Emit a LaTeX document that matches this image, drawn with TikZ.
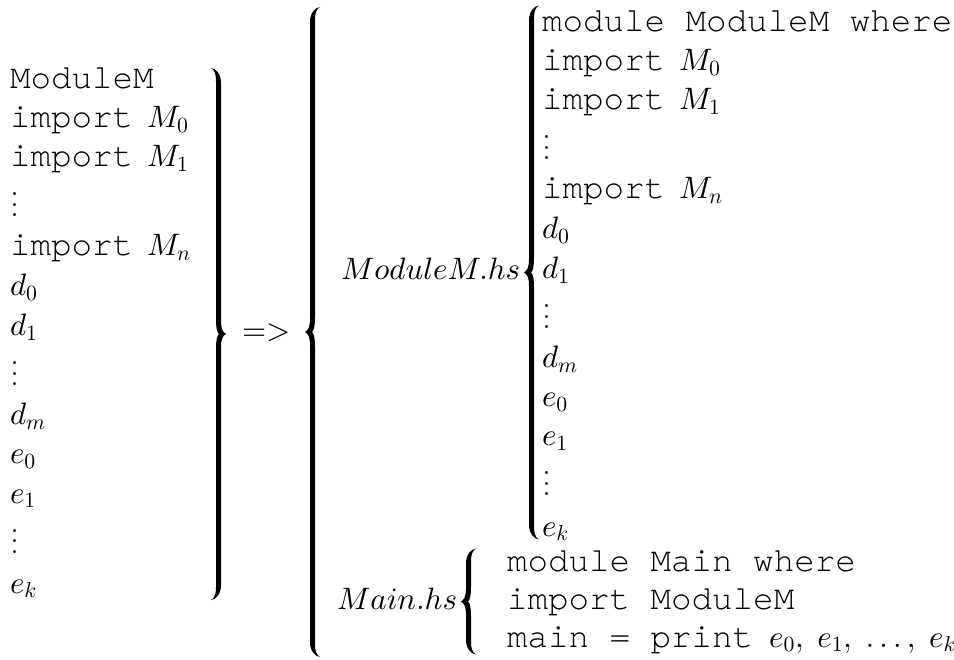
\RequirePackage{fix-cm}
\documentclass[tikz,border=0pt]{standalone}
\usepackage{amsmath}
\usepackage{fontspec}
\setmonofont{TeX Gyre Cursor}
\DeclareFontShape{OML}{cmm}{m}{it}{<->cmmi10}{}
\DeclareFontShape{OMS}{cmsy}{m}{n}{<->cmsy10}{}
\DeclareFontShape{OT1}{cmr}{m}{n}{<->cmr10}{}
\newcommand{\tx}[1]{{\fontsize{34.2}{36}\ttfamily #1}}
\newcommand{\gap}{\hspace*{14pt}}
\newcommand{\myvdots}{{\fontsize{36}{36}\selectfont\vbox{\baselineskip=10.5pt\lineskiplimit=0pt\hbox{.}\hbox{.}\hbox{.}}}}
\tikzset{
  pics/bracel/.style={code={
    \fill (15,-#1) .. controls (10,-#1+0.5) and (5,-#1+6) .. (5,-#1+15)
      -- (5,-13) .. controls (5,-5) and (3,-1.5) .. (0,0)
      .. controls (3,1.5) and (5,5) .. (5,13)
      -- (5,#1-15) .. controls (5,#1-6) and (10,#1-0.5) .. (15,#1)
      .. controls (11,#1-2) and (10,#1-7) .. (10,#1-13)
      -- (10,15) .. controls (10,6) and (9,1.5) .. (7,0)
      .. controls (9,-1.5) and (10,-6) .. (10,-15)
      -- (10,-#1+13) .. controls (10,-#1+7) and (11,-#1+2) .. (15,-#1) -- cycle;
  }}
}
\begin{document}
\begin{tikzpicture}[x=1pt,y=-1pt,
  every node/.style={inner sep=0pt, outer sep=0pt},
  ln/.style={font=\fontsize{31}{36}\selectfont, anchor=base west}]
\useasboundingbox (0,0) rectangle (954,660);
% left column
\node[ln] (l1)  at (10,89)   {\tx{ModuleM}};
\node[ln] (l2)  at (10,128)  {\tx{import}\gap$M_0$};
\node[ln] (l3)  at (10,167)  {\tx{import}\gap$M_1$};
\node[ln] (l4)  at (10,217)  {\myvdots};
\node[ln] (l5)  at (10,256)  {\tx{import}\gap$M_n$};
\node[ln] (l6)  at (10,296)  {$d_0$};
\node[ln] (l7)  at (10,336)  {$d_1$};
\node[ln] (l8)  at (10,386)  {\myvdots};
\node[ln] (l9)  at (10,425)  {$d_m$};
\node[ln] (l10) at (10,464)  {$e_0$};
\node[ln] (l11) at (10,503)  {$e_1$};
\node[ln] (l12) at (10,553)  {\myvdots};
\node[ln] (l13) at (10,593)  {$e_k$};
\pic[xscale=-1] at (226,334) {bracel=266};
% arrow text
\node[ln] (arr) at (242,340.5) {$=>$};
\pic at (305,332) {bracel=325};
% ModuleM.hs
\node[ln] (mh) at (341,280) {$ModuleM.hs$};
\pic at (524,272.5) {bracel=267};
\node[ln] (r1)  at (542,32)   {\tx{module ModuleM where}};
\node[ln] (r2)  at (542,71)   {\tx{import}\gap$M_0$};
\node[ln] (r3)  at (542,110)  {\tx{import}\gap$M_1$};
\node[ln] (r4)  at (542,160)  {\myvdots};
\node[ln] (r5)  at (542,199)  {\tx{import}\gap$M_n$};
\node[ln] (r6)  at (542,239)  {$d_0$};
\node[ln] (r7)  at (542,279)  {$d_1$};
\node[ln] (r8)  at (542,329)  {\myvdots};
\node[ln] (r9)  at (542,368)  {$d_m$};
\node[ln] (r10) at (542,407)  {$e_0$};
\node[ln] (r11) at (542,446)  {$e_1$};
\node[ln] (r12) at (542,496)  {\myvdots};
\node[ln] (r13) at (542,536)  {$e_k$};
% Main.hs
\node[ln] (mn) at (337,609) {$Main.hs$};
\pic at (461,601.5) {bracel=53};
\node[ln] (n1) at (507,571) {\tx{module Main where}};
\node[ln] (n2) at (507,609) {\tx{import ModuleM}};
\node[ln] (n3) at (507,647) {\tx{main = print}\hspace*{16pt}$e_0,\;e_1,\;\ldots,\;e_k$};
\end{tikzpicture}
\end{document}
